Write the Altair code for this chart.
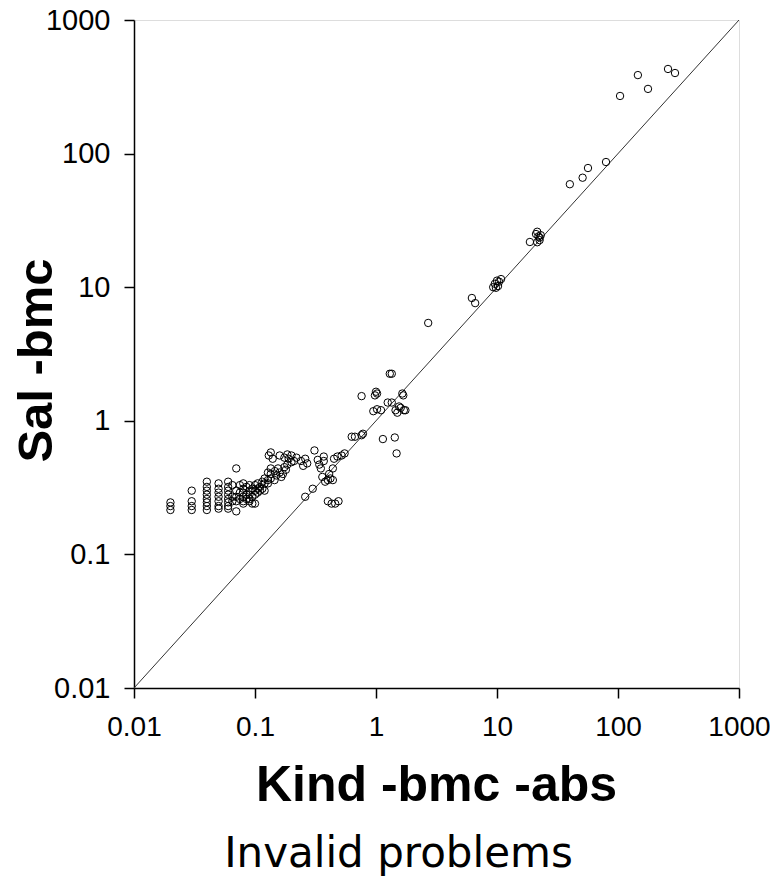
import altair as alt
import pandas as pd

# Kind -bmc -abs (x) and Sal -bmc (y) values
kind_vals = [
    0.02, 0.02, 0.02,
    0.03, 0.03, 0.03, 0.03,
    0.04, 0.04, 0.04, 0.04, 0.04, 0.04, 0.04, 0.04,
    0.05, 0.05, 0.05, 0.05, 0.05, 0.05, 0.05,
    0.06, 0.06, 0.06, 0.06, 0.06, 0.06, 0.06, 0.06,
    0.065, 0.065, 0.065,
    0.07, 0.07, 0.07, 0.07, 0.07,
    0.075, 0.075, 0.075,
    0.08, 0.08, 0.08, 0.08, 0.08, 0.08,
    0.085, 0.085, 0.085,
    0.09, 0.09, 0.09, 0.09, 0.09,
    0.095, 0.095, 0.095,
    0.10, 0.10, 0.10, 0.10,
    0.105, 0.105, 0.105,
    0.11, 0.11,
    0.115, 0.115,
    0.12, 0.12, 0.12,
    0.128, 0.128, 0.128,
    0.135, 0.135, 0.135,
    0.13, 0.135, 0.14,
    0.146, 0.15, 0.145,
    0.155, 0.16, 0.165,
    0.17, 0.175, 0.18, 0.185,
    0.16, 0.175, 0.185, 0.19, 0.2,
    0.2, 0.21, 0.22,
    0.24, 0.25, 0.26, 0.27,
    0.26, 0.30,
    0.31,
    0.33, 0.34, 0.35, 0.37, 0.37,
    0.36, 0.38, 0.40, 0.42, 0.41, 0.44,
    0.40, 0.43, 0.46, 0.49,
    0.44, 0.45, 0.48,
    0.52, 0.55,
    0.63, 0.67, 0.76, 0.78,
    0.76,
    0.98, 1.0, 1.02,
    0.95, 1.02, 1.1,
    1.14,
    1.25, 1.35,
    1.3, 1.35,
    1.45, 1.5, 1.55, 1.6, 1.7, 1.75, 1.65, 1.68,
    1.43, 1.48,
    2.7,
    6.2, 6.6,
    9.3, 9.6, 10.0, 10.4, 10.8, 10.2, 9.8,
    18.7, 21.0, 21.5, 22.0, 22.5, 21.5, 22.5, 23.0,
    40.0, 51.0, 56.5, 79.6,
    104.0, 146.0, 177.0, 259.0, 296.0,
]

sal_vals = [
    0.245, 0.23, 0.215,
    0.30, 0.25, 0.23, 0.215,
    0.35, 0.32, 0.30, 0.28, 0.26, 0.245, 0.23, 0.215,
    0.34, 0.31, 0.29, 0.27, 0.25, 0.23, 0.22,
    0.35, 0.32, 0.30, 0.28, 0.26, 0.245, 0.23, 0.22,
    0.33, 0.27, 0.25,
    0.44, 0.30, 0.27, 0.25, 0.21,
    0.33, 0.29, 0.26,
    0.34, 0.31, 0.29, 0.27, 0.25, 0.24,
    0.32, 0.28, 0.26,
    0.33, 0.30, 0.28, 0.26, 0.25,
    0.31, 0.27, 0.24,
    0.33, 0.30, 0.28, 0.24,
    0.34, 0.31, 0.29,
    0.32, 0.30,
    0.35, 0.31,
    0.37, 0.34, 0.30,
    0.41, 0.36, 0.34,
    0.44, 0.40, 0.37,
    0.55, 0.58, 0.52,
    0.42, 0.39, 0.36,
    0.44, 0.41, 0.38,
    0.40, 0.45, 0.43, 0.47,
    0.55, 0.53, 0.56, 0.52, 0.55,
    0.49, 0.50, 0.53,
    0.50, 0.46, 0.52, 0.48,
    0.27, 0.31,
    0.60,
    0.51, 0.47, 0.44, 0.50, 0.54,
    0.38, 0.35, 0.36, 0.37, 0.40, 0.36,
    0.25, 0.24, 0.24, 0.25,
    0.44, 0.52, 0.54,
    0.55, 0.57,
    0.76, 0.76, 0.78, 0.80,
    1.53,
    1.55, 1.65, 1.6,
    1.18, 1.22, 1.2,
    0.73,
    1.37, 1.37,
    2.25, 2.25,
    1.2, 1.15, 1.28, 1.25, 1.2, 1.2, 1.6, 1.55,
    0.75, 0.57,
    5.4,
    8.3, 7.6,
    10.0, 10.6, 11.2, 11.0, 11.5, 10.2, 9.9,
    21.8, 25.0, 26.0, 24.0, 22.5, 21.7, 23.5, 24.5,
    59.0, 66.0, 78.0, 86.5,
    270.0, 387.0, 305.0, 430.0, 401.0,
]

diag_vals = [0.01, 1000.0]
tick_vals = [0.01, 0.1, 1, 10, 100, 1000]

points = pd.DataFrame({"kind": kind_vals, "sal": sal_vals})
diag = pd.DataFrame({"kind": diag_vals, "sal": diag_vals})

x_scale = alt.Scale(type="log", domain=[0.01, 1000], nice=False)
y_scale = alt.Scale(type="log", domain=[0.01, 1000], nice=False)

x_axis = alt.Axis(
    title="Kind -bmc -abs", values=tick_vals, format="~g", grid=False,
    tickSize=10, tickWidth=1.5, tickColor="black", domainColor="black", domainWidth=1.5,
    labelFont="Liberation Sans", labelFontSize=28, labelColor="black", labelPadding=15,
    titleFont="Liberation Sans", titleFontSize=50, titleFontWeight="bold", titleColor="black",
    titleBaseline="alphabetic", titleY=112, titleX=302, titleAlign="center",
    labelFlush=False,
)
y_axis = alt.Axis(
    title="Sal -bmc", values=tick_vals, format="~g", grid=False,
    tickSize=10, tickWidth=1.5, tickColor="black", domainColor="black", domainWidth=1.5,
    labelFont="Liberation Sans", labelFontSize=29, labelColor="black", labelPadding=14,
    titleFont="Liberation Sans", titleFontSize=49, titleFontWeight="bold", titleColor="black",
    titleAngle=-90, titleBaseline="alphabetic", titleX=-83, titleY=340, titleAlign="center",
    labelFlush=False,
)

line = alt.Chart(diag).mark_line(color="#333333", strokeWidth=1, clip=True).encode(
    x=alt.X("kind:Q", scale=x_scale, axis=x_axis),
    y=alt.Y("sal:Q", scale=y_scale, axis=y_axis),
)

pts = alt.Chart(points).mark_point(
    shape="circle", filled=False, color="black", size=55, strokeWidth=1, opacity=1
).encode(
    x=alt.X("kind:Q", scale=x_scale, axis=x_axis),
    y=alt.Y("sal:Q", scale=y_scale, axis=y_axis),
)

chart = (line + pts).properties(
    width=605,
    height=668,
    autosize=alt.AutoSizeParams(type="none"),
    padding={"left": 126, "top": 12, "right": 31, "bottom": 192},
    title=alt.TitleParams(
        text="Invalid problems", orient="bottom", font="DejaVu Sans", fontSize=42,
        fontWeight="normal", color="black", offset=24, anchor="middle", dx=-38,
    ),
).configure_view(stroke="black", strokeWidth=1.5).configure(background="white")

chart.save("out.html", embed_options={"renderer": "svg", "actions": False})
